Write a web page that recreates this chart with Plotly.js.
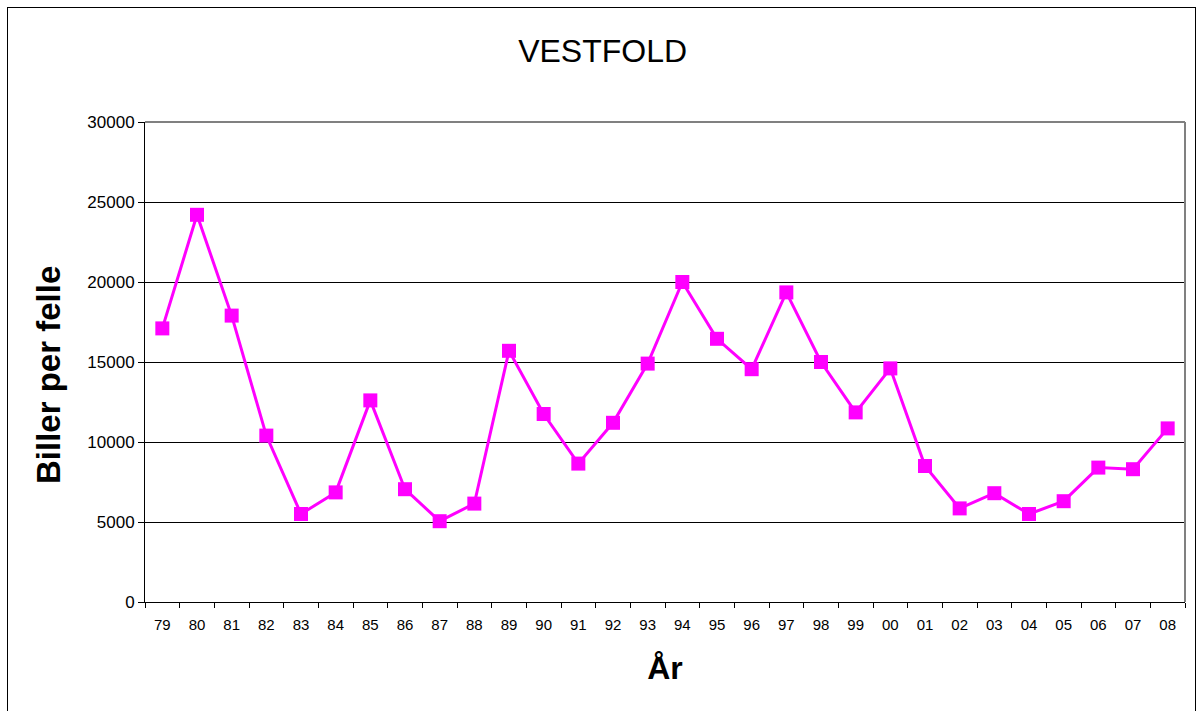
<!DOCTYPE html>
<html>
<head>
<meta charset="utf-8">
<script src="https://cdn.plot.ly/plotly-3.0.1.min.js"></script>
<style>
  html, body { margin: 0; padding: 0; background: #ffffff; overflow: hidden; }
  #frame { position: absolute; left: 7px; top: 7px; width: 1189px; height: 720px; border: 1px solid #000; box-sizing: border-box; pointer-events: none; z-index: 5; }
  #chart { position: absolute; left: 0; top: 0; width: 1198px; height: 711px; }
</style>
</head>
<body>
<div id="chart"></div>
<div id="frame"></div>
<script>
// Years (two-digit labels) and beetles per trap, Vestfold
const years = ["79","80","81","82","83","84","85","86","87","88","89","90","91","92","93","94","95","96","97","98","99","00","01","02","03","04","05","06","07","08"];
const beetles = [17100, 24200, 17900, 10400, 5500, 6850, 12600, 7050, 5050, 6150, 15700, 11750, 8650, 11200, 14900, 20000, 16450, 14550, 19350, 15000, 11850, 14600, 8500, 5850, 6800, 5500, 6300, 8400, 8300, 10850];
const yTicks = [0, 5000, 10000, 15000, 20000, 25000, 30000];

const FONT = '"Liberation Sans", Arial, Helvetica, sans-serif';

const trace = {
  type: 'scatter',
  mode: 'lines+markers',
  x: years,
  y: beetles,
  line: { color: '#FF00FF', width: 3 },
  marker: { symbol: 'square', size: 14, color: '#FF00FF' },
  hoverinfo: 'x+y'
};

const layout = {
  width: 1198,
  height: 711,
  margin: { l: 145, r: 13, t: 122, b: 109 },
  paper_bgcolor: '#ffffff',
  plot_bgcolor: '#ffffff',
  showlegend: false,
  font: { family: FONT, color: '#000000' },
  title: {
    text: 'VESTFOLD',
    font: { family: FONT, size: 32, color: '#000000' },
    xref: 'container', x: 0.503, xanchor: 'center',
    yref: 'container', y: 1 - 51 / 711, yanchor: 'middle'
  },
  xaxis: {
    type: 'category',
    range: [-0.5, years.length - 0.5],
    tickson: 'boundaries',
    ticks: 'outside',
    ticklen: 5,
    tickwidth: 1,
    tickcolor: '#000000',
    ticklabelstandoff: 9,
    showgrid: false,
    showline: true,
    linecolor: '#000000',
    linewidth: 1,
    zeroline: false,
    tickfont: { family: FONT, size: 15, color: '#000000' },
    automargin: false,
    title: { text: 'År', font: { family: FONT, size: 32, color: '#000000', weight: 'bold' }, standoff: 24 }
  },
  yaxis: {
    range: [0, 30000],
    tickvals: yTicks,
    ticktext: yTicks.map(String),
    ticks: 'outside',
    ticklen: 6,
    tickwidth: 1,
    tickcolor: '#000000',
    showgrid: true,
    gridcolor: '#000000',
    gridwidth: 1,
    showline: true,
    linecolor: '#000000',
    linewidth: 1,
    zeroline: false,
    tickfont: { family: FONT, size: 17, color: '#000000' },
    automargin: false
  },
  annotations: [
    {
      text: 'Biller per felle',
      textangle: -90,
      font: { family: FONT, size: 33, color: '#000000', weight: 'bold' },
      xref: 'paper', x: (48 - 145) / 1040, xanchor: 'center',
      yref: 'paper', y: (602 - 375) / 480, yanchor: 'middle',
      showarrow: false
    }
  ],
  shapes: [
    { type: 'line', xref: 'paper', yref: 'paper', x0: 0, x1: 1, y0: 1, y1: 1, line: { color: '#808080', width: 2 }, layer: 'above' },
    { type: 'line', xref: 'paper', yref: 'paper', x0: 1, x1: 1, y0: 0, y1: 1, line: { color: '#808080', width: 2 }, layer: 'above' }
  ]
};

Plotly.newPlot('chart', [trace], layout, { displayModeBar: false, staticPlot: true });
</script>
</body>
</html>
